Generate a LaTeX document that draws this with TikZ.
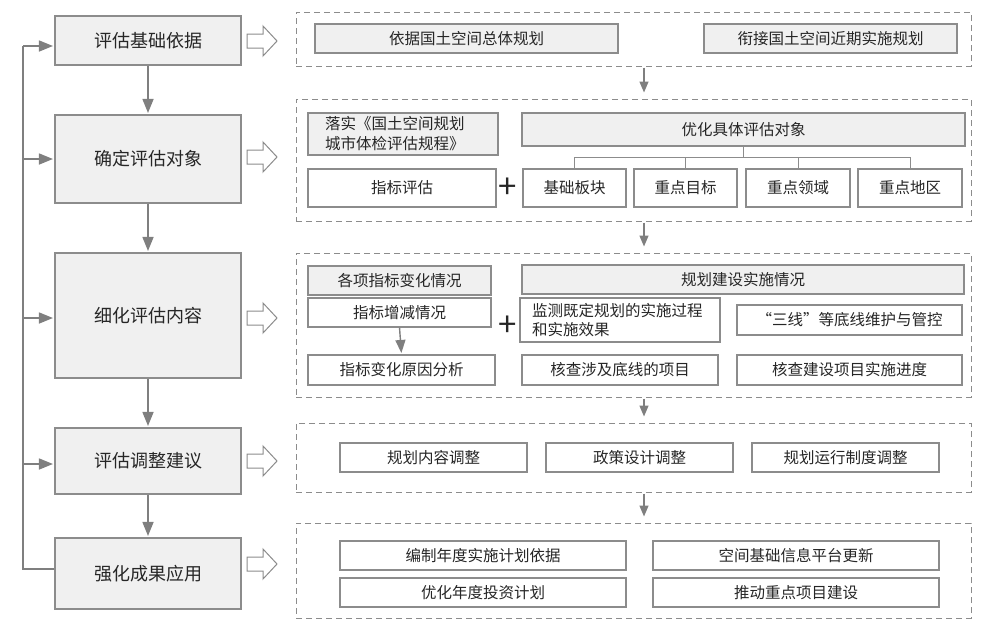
\documentclass[tikz,border=0pt]{standalone}
\usepackage{fontspec}
\setmainfont{Noto Sans CJK SC}
\usetikzlibrary{arrows.meta}
\definecolor{bordc}{HTML}{8C8C8C}
\definecolor{fillg}{HTML}{F0F0F0}
\definecolor{arrc}{HTML}{7F7F7F}
\definecolor{txtc}{HTML}{262626}
\newcommand\holarrow[1]{\draw[holl] (247,{#1-7}) -- (263,{#1-7}) -- (263,{#1-15}) -- (277,#1) -- (263,{#1+15}) -- (263,{#1+7}) -- (247,{#1+7}) -- cycle;}
\begin{document}
\begin{tikzpicture}[x=1pt,y=-1pt,
  lbox/.style={draw=bordc, fill=fillg, line width=1.1pt, inner sep=0pt, minimum width=186pt, text=txtc, font=\fontsize{18}{20}\selectfont},
  hbox/.style={draw=bordc, fill=fillg, line width=1.1pt, inner sep=0pt, text=txtc, font=\fontsize{15.5}{19}\selectfont},
  rbox/.style={draw=bordc, fill=white, line width=1.1pt, inner sep=0pt, text=txtc, font=\fontsize{15.5}{19}\selectfont},
  panel/.style={draw=bordc, line width=1pt, dash pattern=on 6pt off 4pt, minimum width=675pt, inner sep=0pt},
  arr/.style={draw=arrc, line width=1.6pt, -{Triangle[width=11pt,length=14pt]}, shorten >=1.5pt},
  parr/.style={draw=arrc, line width=1.4pt, -{Triangle[width=9pt,length=11pt]}, shorten <=1pt, shorten >=6pt},
  fbline/.style={draw=arrc, line width=1.6pt},
  tree/.style={draw=bordc, line width=1pt},
  holl/.style={draw=bordc, fill=white, line width=1pt, line join=miter},
  plus/.style={text=txtc, inner sep=0pt, font=\fontsize{33}{33}\selectfont}
]
\useasboundingbox (0,0) rectangle (982,627);

% left column
\node[lbox, minimum height=49pt] (b1) at (148,40.5) {评估基础依据};
\node[lbox, minimum height=88pt] (b2) at (148,159) {确定评估对象};
\node[lbox, minimum height=125pt] (b3) at (148,315.5) {细化评估内容};
\node[lbox, minimum height=66pt] (b4) at (148,461) {评估调整建议};
\node[lbox, minimum height=71pt] (b5) at (148,573.5) {强化成果应用};

\draw[arr] (b1.south) -- (b2.north);
\draw[arr] (b2.south) -- (b3.north);
\draw[arr] (b3.south) -- (b4.north);
\draw[arr] (b4.south) -- (b5.north);

% feedback
\coordinate (fbx) at (23,0);
\coordinate (k1) at ([yshift=-5.5pt]b1.west);
\coordinate (k3) at ([yshift=-2.5pt]b3.west);
\coordinate (k4) at ([yshift=-3pt]b4.west);
\coordinate (k5) at ([yshift=4.5pt]b5.west);
\draw[fbline] (k5) -| (fbx |- k1);
\draw[arr] (fbx |- k1) -- (k1);
\draw[arr] (fbx |- b2.west) -- (b2.west);
\draw[arr] (fbx |- k3) -- (k3);
\draw[arr] (fbx |- k4) -- (k4);

% hollow arrows
\holarrow{41}
\holarrow{157}
\holarrow{318}
\holarrow{461}
\holarrow{564}

% panels
\node[panel, minimum height=54pt] (p1) at (633.5,39) {};
\node[panel, minimum height=122pt] (p2) at (633.5,160) {};
\node[panel, minimum height=144pt] (p3) at (633.5,325) {};
\node[panel, minimum height=69pt] (p4) at (633.5,457.5) {};
\node[panel, minimum height=95pt] (p5) at (633.5,570.5) {};

\coordinate (ax) at (644,0);
\draw[parr] (ax |- p1.south) -- (ax |- p2.north);
\draw[parr] (ax |- p2.south) -- (ax |- p3.north);
\draw[parr] (ax |- p3.south) -- (ax |- p4.north);
\draw[parr] (ax |- p4.south) -- (ax |- p5.north);

% panel 1
\node[hbox, minimum width=303pt, minimum height=29pt] (a1) at (466.5,38.5) {依据国土空间总体规划};
\node[hbox, minimum width=253pt, minimum height=29pt] (a2) at (830.5,38.5) {衔接国土空间近期实施规划};

% panel 2
\node[hbox, minimum height=42pt, inner xsep=17pt, text width=156pt, align=left, font=\fontsize{15.5}{20}\selectfont] (c1) at (403,134) {落实《国土空间规划\\城市体检评估规程》};
\node[hbox, minimum width=443pt, minimum height=33pt] (c2) at (743.5,129.5) {优化具体评估对象};
\node[rbox, minimum width=188pt, minimum height=38pt] (c3) at (402,188) {指标评估};
\node[plus] (pl1) at (508,188) {+};
\node[rbox, minimum width=103pt, minimum height=38pt] (c4) at (574.5,188) {基础板块};
\node[rbox, minimum width=103pt, minimum height=38pt] (c5) at (685.5,188) {重点目标};
\node[rbox, minimum width=104pt, minimum height=38pt] (c6) at (798,188) {重点领域};
\node[rbox, minimum width=104pt, minimum height=38pt] (c7) at (910,188) {重点地区};
\coordinate (t) at (743.5,157);
\draw[tree] (c2.south) -- (t);
\draw[tree] (c4.north) |- (t -| c7.north) -- (c7.north);
\draw[tree] (c5.north) -- (c5.north |- t);
\draw[tree] (c6.north) -- (c6.north |- t);

% panel 3
\node[hbox, minimum width=183pt, minimum height=29pt] (d1) at (399.5,280.5) {各项指标变化情况};
\node[rbox, minimum width=183pt, minimum height=29pt] (d2) at (399.5,312.5) {指标增减情况};
\node[rbox, minimum width=187pt, minimum height=30pt] (d3) at (401.5,370) {指标变化原因分析};
\draw[arr, line width=1.4pt, -{Triangle[width=10pt,length=13pt]}] (d2.south) -- (d3.north);
\node[plus] (pl2) at (508,326) {+};
\node[hbox, minimum width=442pt, minimum height=29pt] (d4) at (743,279.5) {规划建设实施情况};
\node[rbox, minimum height=44pt, inner xsep=12pt, text width=176pt, align=left] (d5) at (620,320) {监测既定规划的实施过程\\和实施效果};
\node[rbox, minimum width=225pt, minimum height=30pt] (d6) at (849.5,320) {“三线”等底线维护与管控};
\node[rbox, minimum width=196pt, minimum height=30pt] (d7) at (620,370) {核查涉及底线的项目};
\node[rbox, minimum width=225pt, minimum height=30pt] (d8) at (849.5,370) {核查建设项目实施进度};

% panel 4
\node[rbox, minimum width=187pt, minimum height=29pt] (e1) at (433.5,457.5) {规划内容调整};
\node[rbox, minimum width=187pt, minimum height=29pt] (e2) at (639.5,457.5) {政策设计调整};
\node[rbox, minimum width=187pt, minimum height=29pt] (e3) at (845.5,457.5) {规划运行制度调整};

% panel 5
\node[rbox, minimum width=286pt, minimum height=29pt] (f1) at (483,555.5) {编制年度实施计划依据};
\node[rbox, minimum width=286pt, minimum height=29pt] (f2) at (796,555.5) {空间基础信息平台更新};
\node[rbox, minimum width=286pt, minimum height=29pt] (f3) at (483,592.5) {优化年度投资计划};
\node[rbox, minimum width=286pt, minimum height=29pt] (f4) at (796,592.5) {推动重点项目建设};
\end{tikzpicture}
\end{document}
